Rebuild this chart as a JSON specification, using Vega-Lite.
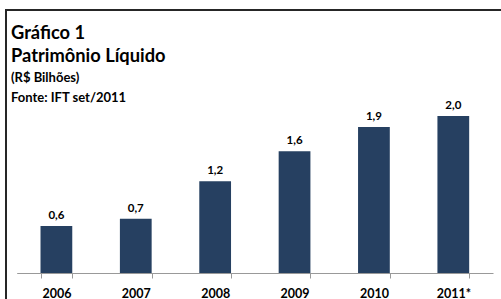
{
  "$schema": "https://vega.github.io/schema/vega-lite/v6.json",
  "width": 520,
  "height": 320,
  "autosize": {"type": "none"},
  "padding": {"left": 6, "top": 10, "right": 0, "bottom": 0},
  "background": "white",
  "title": {
    "text": ["Gráfico 1", "Patrimônio Líquido"],
    "subtitle": ["(R$ Bilhões)", "Fonte: IFT set/2011"],
    "anchor": "start",
    "frame": "group",
    "offset": -96,
    "dx": 5,
    "font": "Lato",
    "fontSize": 18.3,
    "fontWeight": "bold",
    "lineHeight": 23,
    "color": "#000000",
    "subtitleFont": "Lato",
    "subtitleFontSize": 13,
    "subtitleFontWeight": "bold",
    "subtitleLineHeight": 20,
    "subtitleColor": "#000000",
    "subtitlePadding": 6
  },
  "data": {
    "values": [
      {"ano": "2006", "valor": 0.6, "rotulo": "0,6"},
      {"ano": "2007", "valor": 0.69, "rotulo": "0,7"},
      {"ano": "2008", "valor": 1.17, "rotulo": "1,2"},
      {"ano": "2009", "valor": 1.55, "rotulo": "1,6"},
      {"ano": "2010", "valor": 1.86, "rotulo": "1,9"},
      {"ano": "2011*", "valor": 2.0, "rotulo": "2,0"}
    ]
  },
  "encoding": {
    "x": {
      "field": "ano",
      "type": "nominal",
      "sort": null,
      "scale": {"range": [10.7, 487], "paddingInner": 0.6, "paddingOuter": 0.3},
      "axis": {
        "title": null,
        "orient": "bottom",
        "offset": -57,
        "labelAngle": 0,
        "labelFont": "Lato",
        "labelFontSize": 12.5,
        "labelFontWeight": "bold",
        "labelColor": "#000000",
        "labelPadding": 9,
        "tickBand": "extent",
        "tickSize": 5,
        "tickWidth": 1,
        "tickColor": "#999999",
        "domainColor": "#999999",
        "grid": false
      }
    },
    "y": {
      "field": "valor",
      "type": "quantitative",
      "scale": {"domain": [0, 2.4], "range": [263, 74.6], "nice": false},
      "axis": null
    }
  },
  "layer": [
    {"mark": {"type": "bar", "color": "#264061"}},
    {
      "mark": {
        "type": "text",
        "baseline": "alphabetic",
        "dy": -7,
        "font": "Lato",
        "fontSize": 11.5,
        "fontWeight": "bold",
        "color": "#000000"
      },
      "encoding": {"text": {"field": "rotulo"}}
    }
  ],
  "config": {
    "view": {"stroke": "#262626", "strokeWidth": 2}
  }
}
